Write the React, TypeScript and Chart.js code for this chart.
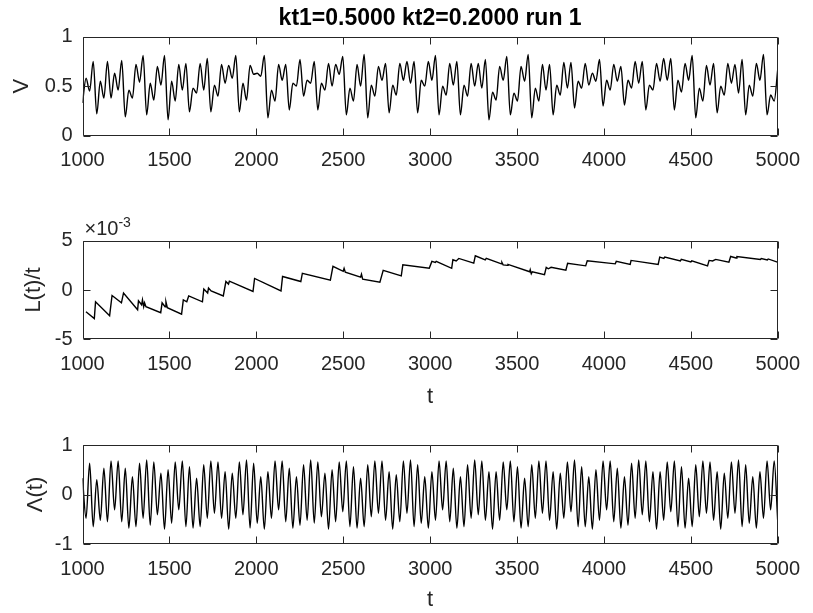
import React, { useEffect, useRef } from 'react';
import { Chart, registerables } from 'chart.js';

Chart.register(...registerables);

// ---------------- data ----------------
const plotTitle = 'kt1=0.5000 kt2=0.2000 run 1';
const X_MIN = 1000;
const X_MAX = 5000;
const xTicks = [1000, 1500, 2000, 2500, 3000, 3500, 4000, 4500, 5000];

// V(t): successive extrema, evenly spread over 1000..5000
const vValues = [
  0.33, 0.58, 0.45, 0.75, 0.22,
  0.55, 0.38, 0.75, 0.38, 0.63, 0.46, 0.76, 0.19, 0.46, 0.38,
  0.72, 0.54, 0.81, 0.21, 0.53, 0.36, 0.70, 0.51, 0.81, 0.16,
  0.55, 0.35, 0.72, 0.46, 0.73, 0.24, 0.48, 0.43, 0.73, 0.46,
  0.78, 0.24, 0.51, 0.40, 0.72, 0.53, 0.71, 0.58, 0.81, 0.24,
  0.53, 0.36, 0.71, 0.62, 0.63, 0.60, 0.81, 0.18, 0.46, 0.35,
  0.72, 0.56, 0.72, 0.26, 0.53, 0.50, 0.77, 0.40, 0.56, 0.53,
  0.75, 0.26, 0.53, 0.46, 0.73, 0.50, 0.72, 0.62, 0.80, 0.21,
  0.48, 0.35, 0.72, 0.50, 0.82, 0.18, 0.51, 0.40, 0.70, 0.56,
  0.73, 0.23, 0.51, 0.41, 0.73, 0.56, 0.75, 0.53, 0.75, 0.23,
  0.56, 0.50, 0.75, 0.56, 0.81, 0.21, 0.50, 0.41, 0.73,
  0.51,
  0.75, 0.21, 0.51, 0.40, 0.73, 0.50, 0.73, 0.48, 0.77, 0.16,
  0.44, 0.36, 0.70, 0.56, 0.80, 0.21, 0.43, 0.35, 0.70, 0.55,
  0.82, 0.18, 0.48, 0.35, 0.72, 0.46, 0.72, 0.21, 0.51, 0.41,
  0.74, 0.48, 0.74, 0.28, 0.55, 0.48, 0.73, 0.51, 0.63, 0.55,
  0.77, 0.30, 0.56, 0.46, 0.72, 0.55, 0.70, 0.31, 0.56, 0.48,
  0.75, 0.53, 0.75, 0.26, 0.51, 0.46, 0.73, 0.55, 0.78, 0.56,
  0.78, 0.26, 0.56, 0.44, 0.73, 0.56, 0.81, 0.18, 0.48, 0.35,
  0.71, 0.51, 0.73, 0.23, 0.50, 0.41, 0.73, 0.53, 0.72, 0.43,
  0.77, 0.21, 0.51, 0.40, 0.73, 0.56, 0.82, 0.21, 0.41, 0.35, 0.67,
];
const vTicks = [0, 0.5, 1];

// L(t)/t in units of 10^-3 : sawtooth corner points
const L_EXPONENT = '-3';
const lTimes = [
  1020, 1068, 1075, 1156, 1170, 1224, 1236, 1317, 1322, 1340, 1345, 1352, 1357, 1365,
  1450, 1458, 1475, 1480, 1488, 1570, 1580, 1600, 1611, 1690, 1698, 1720, 1725, 1740,
  1810, 1825, 1840, 1845, 1981, 1990, 2142, 2151, 2256, 2265, 2426, 2441, 2500, 2505,
  2512, 2600, 2605, 2612, 2711, 2730, 2834, 2843, 2995, 3010, 3030, 3035, 3124, 3131,
  3150, 3165, 3251, 3260, 3317, 3323, 3410, 3413, 3420, 3445, 3448, 3573, 3576, 3582,
  3588, 3658, 3668, 3680, 3696, 3781, 3791, 3895, 3904, 4065, 4071, 4151, 4156, 4312,
  4321, 4345, 4350, 4440, 4445, 4500, 4505, 4596, 4605, 4625, 4643, 4719, 4729, 4760,
  4765, 4900, 4905, 4940, 4945, 4998,
];
const lValues = [
  -2.2, -2.9, -1.2, -2.6, -0.56, -1.3, -0.3, -2.0, -1.1, -1.5, -1.0, -1.7, -1.3, -1.7,
  -2.3, -1.3, -1.7, -1.2, -1.8, -2.45, -1.0, -1.2, -0.6, -1.2, 0.1, -0.3, 0.2, -0.1,
  -0.6, 0.86, 0.6, 0.9, -0.15, 1.17, -0.1, 1.37, 0.86, 1.7, 1.0, 2.4, 1.9, 2.2,
  1.8, 1.3, 1.6, 1.1, 0.8, 2.0, 1.44, 2.56, 2.2, 2.9, 2.8, 2.9, 2.2, 3.07,
  2.95, 3.2, 2.73, 3.47, 3.05, 3.2, 2.65, 2.8, 2.55, 2.5, 2.6, 1.85, 2.05, 1.65,
  1.85, 1.55, 2.3, 2.15, 2.3, 2.0, 2.7, 2.45, 2.96, 2.65, 2.9, 2.6, 3.0, 2.6,
  3.34, 3.2, 3.35, 2.95, 3.1, 2.85, 2.95, 2.45, 3.0, 2.95, 3.1, 2.83, 3.4, 3.25,
  3.4, 3.1, 3.2, 3.05, 3.15, 2.83,
];
const lTicks = [-5, 0, 5];

// Λ(t): successive extrema, evenly spread over 1000..5000
const lambdaValues = [
  0.33, -0.48, 0.63, -0.65, 0.30, -0.52,
  0.53, -0.55, 0.68, -0.31, 0.68, -0.55, 0.53, -0.68, 0.36, -0.65, 0.63, -0.48, 0.70, -0.62, 0.66, -0.41, 0.43, -0.70, 0.50, -0.58,
  0.66, -0.31, 0.68, -0.65, 0.56, -0.68, 0.33, -0.65, 0.60, -0.48, 0.68, -0.38, 0.66, -0.48, 0.46, -0.70, 0.43, -0.48, 0.66, -0.41,
  0.70, -0.68, 0.63, -0.58, 0.36, -0.70, 0.46, -0.48, 0.68, -0.31, 0.68, -0.55, 0.53, -0.68, 0.36, -0.62, 0.60, -0.52, 0.70, -0.58,
  0.66, -0.45, 0.43, -0.70, 0.50, -0.55, 0.66, -0.35, 0.68, -0.65, 0.56, -0.68, 0.33, -0.65, 0.60, -0.45, 0.68, -0.38, 0.68, -0.52,
  0.46, -0.70, 0.40, -0.55, 0.68, -0.38, 0.70, -0.65, 0.60, -0.58, 0.36, -0.68, 0.46, -0.52, 0.68, -0.31, 0.68, -0.55, 0.53,
  -0.68, 0.36, -0.65, 0.60, -0.48, 0.70, -0.41, 0.68, -0.52, 0.46, -0.70, 0.46, -0.52, 0.66, -0.31, 0.68, -0.55, 0.56, -0.68, 0.33,
  -0.65, 0.60, -0.48, 0.68, -0.38, 0.68, -0.52, 0.46, -0.70, 0.43, -0.48, 0.66, -0.35, 0.70, -0.65, 0.56, -0.65, 0.36, -0.70, 0.50,
  -0.52, 0.68, -0.31, 0.68, -0.55, 0.53, -0.68, 0.36, -0.62, 0.63, -0.48, 0.70, -0.41, 0.68, -0.55, 0.46, -0.70, 0.46, -0.52, 0.66,
  -0.35, 0.68, -0.65, 0.56, -0.68, 0.33, -0.65, 0.60, -0.45, 0.68, -0.38, 0.66, -0.52, 0.46, -0.70, 0.43, -0.48, 0.66, -0.38, 0.70,
  -0.65, 0.60, -0.58, 0.36, -0.68, 0.46, -0.48, 0.68, -0.31, 0.68, -0.55,
];
const lambdaTicks = [-1, 0, 1];

// ---------------- style ----------------
const FIG_W = 813;
const FIG_H = 613;
const AXIS_COLOR = '#262626';
const FONT = '"Liberation Sans", Arial, Helvetica, sans-serif';
const TICK_FONT = 20;
const LABEL_FONT = 22;
const TITLE_FONT = 23;
const TICK_LEN = 7;
const AXIS_LEFT = 82.5;
const PAD_RIGHT = 27;

const evenPoints = (vals: number[]) =>
  vals.map((y, i) => ({ x: X_MIN + (i * (X_MAX - X_MIN)) / (vals.length - 1), y }));

const pairPoints = (xs: number[], ys: number[]) => xs.map((x, i) => ({ x, y: ys[i] }));

const boxPlugin = {
  id: 'matlabBox',
  afterDatasetsDraw(chart: any) {
    const { ctx, chartArea: a } = chart;
    const xs = chart.scales.x;
    const ys = chart.scales.y;
    const l = Math.round(a.left) + 0.5;
    const r = Math.round(a.right) - 0.5;
    const t = Math.round(a.top) + 0.5;
    const b = Math.round(a.bottom) - 0.5;
    ctx.save();
    ctx.strokeStyle = AXIS_COLOR;
    ctx.lineWidth = 1;
    ctx.beginPath();
    ctx.rect(l, t, r - l, b - t);
    xs.ticks.forEach((tk: any) => {
      const px = Math.round(xs.getPixelForValue(tk.value)) + 0.5;
      ctx.moveTo(px, b);
      ctx.lineTo(px, b - TICK_LEN);
      ctx.moveTo(px, t);
      ctx.lineTo(px, t + TICK_LEN);
    });
    ys.ticks.forEach((tk: any) => {
      const py = Math.round(ys.getPixelForValue(tk.value)) + 0.5;
      ctx.moveTo(l, py);
      ctx.lineTo(l + TICK_LEN, py);
      ctx.moveTo(r, py);
      ctx.lineTo(r - TICK_LEN, py);
    });
    ctx.stroke();
    ctx.restore();
  },
};

const exponentPlugin = (exp: string) => ({
  id: 'exponentLabel',
  afterDraw(chart: any) {
    const { ctx, chartArea: a } = chart;
    ctx.save();
    ctx.fillStyle = AXIS_COLOR;
    ctx.textBaseline = 'alphabetic';
    ctx.textAlign = 'left';
    ctx.font = `${TICK_FONT}px ${FONT}`;
    const base = '\u00d710';
    const x0 = a.left + 2;
    const y0 = a.top - 5.5;
    ctx.fillText(base, x0, y0);
    const w = ctx.measureText(base).width;
    ctx.font = `14px ${FONT}`;
    ctx.fillText(exp, x0 + w, y0 - 8);
    ctx.restore();
  },
});

type SubplotProps = {
  top: number;
  height: number;
  padTop: number;
  plotBottom: number;
  points: { x: number; y: number }[];
  smooth: boolean;
  yMin: number;
  yMax: number;
  yTicks: number[];
  yLabel: string;
  yTitlePad: number;
  xLabel?: string;
  xTitlePadBottom?: number;
  title?: string;
  exponent?: string;
};

function Subplot(p: SubplotProps) {
  const ref = useRef<HTMLCanvasElement | null>(null);
  useEffect(() => {
    if (!ref.current) return;
    const xHeight = p.height - p.plotBottom;
    const extraPlugins: any[] = [boxPlugin];
    if (p.exponent) extraPlugins.push(exponentPlugin(p.exponent));
    const chart = new Chart(ref.current, {
      type: 'line',
      data: {
        datasets: [
          {
            data: p.points,
            borderColor: '#000000',
            borderWidth: 1.4,
            pointRadius: 0,
            fill: false,
            tension: 0,
            cubicInterpolationMode: p.smooth ? 'monotone' : 'default',
          } as any,
        ],
      },
      options: {
        animation: false,
        responsive: false,
        events: [],
        layout: { padding: { left: 0, right: PAD_RIGHT, top: p.padTop, bottom: 0 } },
        plugins: {
          legend: { display: false },
          tooltip: { enabled: false },
          title: p.title
            ? {
                display: true,
                text: p.title,
                color: '#000000',
                fullSize: false,
                font: { family: FONT, size: TITLE_FONT, weight: 'bold' },
                padding: { top: 5, bottom: 4 },
              }
            : { display: false },
        },
        scales: {
          x: {
            type: 'linear',
            min: X_MIN,
            max: X_MAX,
            afterBuildTicks: (s: any) => {
              s.ticks = xTicks.map((value) => ({ value }));
            },
            afterFit: (s: any) => {
              s.height = xHeight;
            },
            ticks: {
              autoSkip: false,
              maxRotation: 0,
              minRotation: 0,
              padding: 13,
              color: AXIS_COLOR,
              font: { family: FONT, size: TICK_FONT },
              callback: (v: any) => String(v),
            },
            grid: { display: false, drawTicks: false },
            border: { display: false },
            title: p.xLabel
              ? {
                  display: true,
                  text: p.xLabel,
                  color: AXIS_COLOR,
                  font: { family: FONT, size: LABEL_FONT },
                  padding: { top: 0, bottom: p.xTitlePadBottom ?? 0 },
                }
              : { display: false },
          },
          y: {
            type: 'linear',
            min: p.yMin,
            max: p.yMax,
            afterBuildTicks: (s: any) => {
              s.ticks = p.yTicks.map((value) => ({ value }));
            },
            afterFit: (s: any) => {
              s.width = AXIS_LEFT;
            },
            ticks: {
              padding: 10,
              color: AXIS_COLOR,
              font: { family: FONT, size: TICK_FONT },
              callback: (v: any) => String(v),
            },
            grid: { display: false, drawTicks: false },
            border: { display: false },
            title: {
              display: true,
              text: p.yLabel,
              color: AXIS_COLOR,
              font: { family: FONT, size: LABEL_FONT },
              padding: { top: p.yTitlePad, bottom: 0 },
            },
          },
        },
      } as any,
      plugins: extraPlugins,
    });
    return () => chart.destroy();
  }, []);
  return (
    <canvas
      ref={ref}
      width={FIG_W}
      height={p.height}
      style={{ position: 'absolute', left: 0, top: p.top, width: FIG_W, height: p.height }}
    />
  );
}

export default function App() {
  return (
    <div
      style={{
        position: 'fixed',
        left: 0,
        top: 0,
        width: FIG_W,
        height: FIG_H,
        overflow: 'hidden',
        background: '#ffffff',
      }}
    >
      <Subplot
        top={0}
        height={204}
        padTop={0}
        plotBottom={135.7}
        points={evenPoints(vValues)}
        smooth={true}
        yMin={0}
        yMax={1}
        yTicks={vTicks}
        yLabel="V"
        yTitlePad={8.8}
        title={plotTitle}
      />
      <Subplot
        top={204}
        height={210}
        padTop={36.7}
        plotBottom={135.3}
        points={pairPoints(lTimes, lValues)}
        smooth={false}
        yMin={-5}
        yMax={5}
        yTicks={lTicks}
        yLabel="L(t)/t"
        yTitlePad={20.8}
        xLabel="t"
        xTitlePadBottom={3.5}
        exponent={L_EXPONENT}
      />
      <Subplot
        top={408}
        height={210}
        padTop={37}
        plotBottom={136}
        points={evenPoints(lambdaValues)}
        smooth={true}
        yMin={-1}
        yMax={1}
        yTicks={lambdaTicks}
        yLabel={'\u039b(t)'}
        yTitlePad={22.8}
        xLabel="t"
        xTitlePadBottom={4.8}
      />
    </div>
  );
}
